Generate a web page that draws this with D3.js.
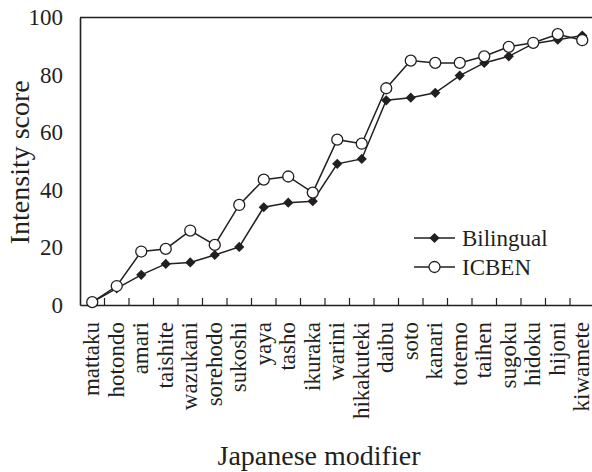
<!DOCTYPE html>
<html>
<head>
<meta charset="utf-8">
<script src="https://cdn.jsdelivr.net/npm/d3@7"></script>
<style>
  body { margin: 0; background: #fff; }
  svg text { font-family: "Liberation Serif", "Times New Roman", Times, "DejaVu Serif", serif; fill: #231f20; }
</style>
</head>
<body>
<div id="chart"></div>
<script>
// modifiers, in the order shown on the x axis
var modifiers = ["mattaku", "hotondo", "amari", "taishite", "wazukani", "sorehodo", "sukoshi",
  "yaya", "tasho", "ikuraka", "warini", "hikakuteki", "daibu", "soto", "kanari", "totemo",
  "taihen", "sugoku", "hidoku", "hijoni", "kiwamete"];

var bilingual = [1, 5.8, 10.5, 14.3, 14.8, 17.4, 20.2, 34.0, 35.6, 36.1, 49.1, 50.8,
  71.2, 72.1, 73.8, 79.8, 84.2, 86.5, 90.9, 92.3, 93.7];

var icben = [1, 6.6, 18.6, 19.5, 25.9, 20.9, 34.8, 43.6, 44.7, 39.1, 57.5, 56.1,
  75.4, 85.0, 84.2, 84.2, 86.5, 89.8, 91.2, 94.2, 92.1];

var yTicks = [0, 20, 40, 60, 80, 100];

var W = 592, H = 472;
var margin = {top: 17.5, left: 80, bottom: 167};
var plotH = H - margin.top - margin.bottom;
var serif = '"Liberation Serif", "Times New Roman", Times, "DejaVu Serif", serif';

var svg = d3.select("#chart").append("svg")
  .attr("width", W)
  .attr("height", H)
  .attr("font-family", serif);

var x = d3.scaleBand()
  .domain(modifiers)
  .range([margin.left, margin.left + 24.5 * modifiers.length])
  .padding(0);

var y = d3.scaleLinear()
  .domain([0, 100])
  .range([margin.top + plotH, margin.top]);

var ink = "#231f20";

// top border
svg.append("line")
  .attr("x1", margin.left).attr("x2", x.range()[1])
  .attr("y1", y(100)).attr("y2", y(100))
  .attr("stroke", ink).attr("stroke-width", 1.6);

// y axis
var yAxis = svg.append("g")
  .attr("transform", "translate(" + margin.left + ",0)")
  .call(d3.axisLeft(y).tickValues(yTicks).tickSize(0).tickPadding(17));
yAxis.attr("font-family", serif);
yAxis.select(".domain").attr("stroke", ink).attr("stroke-width", 1.6);
yAxis.selectAll("text")
  .style("font-size", "23px")
  .attr("fill", ink);

// x axis, labels rotated
var xAxis = svg.append("g")
  .attr("transform", "translate(0," + y(0) + ")")
  .call(d3.axisBottom(x).tickSize(0));
xAxis.attr("font-family", serif);
xAxis.select(".domain").attr("stroke", ink).attr("stroke-width", 1.6);
xAxis.selectAll("text")
  .style("font-size", "23px")
  .attr("fill", ink)
  .attr("text-anchor", "end")
  .attr("transform", "rotate(-90)")
  .attr("x", -17)
  .attr("y", 0)
  .attr("dy", "0.3em");

// small inside ticks between categories
svg.selectAll(".btick")
  .data(modifiers.slice(1))
  .enter().append("line")
  .attr("class", "btick")
  .attr("x1", function (d) { return x(d); })
  .attr("x2", function (d) { return x(d); })
  .attr("y1", y(0))
  .attr("y2", y(0) - 7)
  .attr("stroke", ink)
  .attr("stroke-width", 1.2);

// axis titles
svg.append("text")
  .attr("transform", "translate(29," + (y(50) + 1) + ") rotate(-90)")
  .attr("text-anchor", "middle")
  .style("font-size", "28px")
  .text("Intensity score");

svg.append("text")
  .attr("x", 319)
  .attr("y", 465)
  .attr("text-anchor", "middle")
  .style("font-size", "28px")
  .text("Japanese modifier");

var cx = function (d, i) { return x(modifiers[i]) + x.bandwidth() / 2; };
var line = d3.line()
  .x(function (d, i) { return cx(d, i); })
  .y(function (d) { return y(d); });

var diamond = d3.symbol().type(d3.symbolSquare).size(52);

// Bilingual
svg.append("path")
  .datum(bilingual)
  .attr("d", line)
  .attr("fill", "none")
  .attr("stroke", ink)
  .attr("stroke-width", 1.5);

svg.selectAll(".dia")
  .data(bilingual)
  .enter().append("path")
  .attr("class", "dia")
  .attr("d", diamond)
  .attr("transform", function (d, i) { return "translate(" + cx(d, i) + "," + y(d) + ") rotate(45)"; })
  .attr("fill", ink);

// ICBEN
svg.append("path")
  .datum(icben)
  .attr("d", line)
  .attr("fill", "none")
  .attr("stroke", ink)
  .attr("stroke-width", 1.5);

svg.selectAll(".circ")
  .data(icben)
  .enter().append("circle")
  .attr("class", "circ")
  .attr("cx", cx)
  .attr("cy", function (d) { return y(d); })
  .attr("r", 5.5)
  .attr("fill", "#fff")
  .attr("stroke", ink)
  .attr("stroke-width", 1.3);

// legend
var legend = [
  {name: "Bilingual", ly: 238},
  {name: "ICBEN", ly: 267}
];
var lg = svg.selectAll(".lg")
  .data(legend)
  .enter().append("g")
  .attr("class", "lg")
  .attr("transform", function (d) { return "translate(414," + d.ly + ")"; });

lg.append("line")
  .attr("x1", 0).attr("x2", 41)
  .attr("stroke", ink).attr("stroke-width", 1.5);

lg.filter(function (d) { return d.name === "Bilingual"; })
  .append("path")
  .attr("d", diamond)
  .attr("transform", "translate(20.5,0) rotate(45)")
  .attr("fill", ink);

lg.filter(function (d) { return d.name === "ICBEN"; })
  .append("circle")
  .attr("cx", 20.5).attr("r", 5.5)
  .attr("fill", "#fff").attr("stroke", ink).attr("stroke-width", 1.3);

lg.append("text")
  .attr("x", 48)
  .attr("y", 8)
  .style("font-size", "23px")
  .text(function (d) { return d.name; });
</script>
</body>
</html>
